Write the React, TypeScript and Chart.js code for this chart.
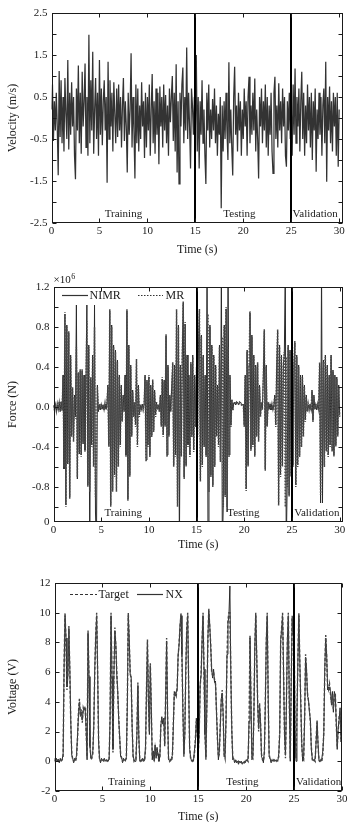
import React, { useEffect, useRef } from 'react';
import { Chart, registerables } from 'chart.js';

Chart.register(...registerables);

const FONT = '"Liberation Serif", "Times New Roman", serif';
const SAMPLE_STEP = 0.1; // seconds between samples

const timeTicks = [0, 5, 10, 15, 20, 25, 30];
const separators = [15, 25];
const regionNames = ['Training', 'Testing', 'Validation'];

// ---------- Panel 1: velocity (m/s) ----------
const velocity = [
  0.2, 0.8, -0.55, 0.4, -0.3, 0.6, -0.2, -1.36, 1.12, -0.45,
  0.9, -0.6, 0.5, -0.8, 0.95, 0.1, -0.5, 1.38, -0.75, 0.6,
  -0.4, 0.85, -0.2, 0.5, -0.9, -1.46, 0.7, -0.3, 1.25, -0.6,
  0.6, -0.85, 1.1, -0.2, 0.4, 1.3, -0.7, 0.5, -0.9, 1.98,
  -0.6, 0.9, -0.3, 1.58, -0.85, 0.2, 0.95, -0.5, 0.6, -0.9,
  1.38, -0.4, 0.7, -0.65, 0.4, 0.9, -0.3, 0.5, -1.54, 1.34,
  -0.5, 0.9, -0.2, 0.6, -0.8, 0.85, 0.1, -0.6, 0.7, -0.45,
  0.8, -0.3, 0.5, -0.7, 0.3, 0.95, -0.55, 0.4, -0.2, -1.3,
  0.6, -0.4, 0.2, 1.54, -0.7, 0.5, -0.3, -1.44, 0.8, -0.6,
  0.7, -0.8, 0.3, -0.5, 0.85, -0.2, 0.4, -0.95, 0.6, -0.7,
  0.5, -0.3, 0.8, -0.9, 0.2, 1.05, -0.6, 0.4, -0.85, 0.7,
  -0.4, 0.6, -1.1, 0.75, -0.2, 0.5, -0.7, 0.8, -0.3, 0.55,
  -0.6, 0.3, -0.9, 0.7, -0.1, 0.5, 1.0, -0.55, 0.6, -0.8,
  1.28, -1.3, 0.4, -1.57, 0.6, -0.2, 0.8, 1.2, -0.6, 0.5,
  -0.3, 1.68, -0.5, 0.6, -0.2, -1.2, 0.7, 0.3, -0.4, 0.5,
  -0.3, 1.5, -0.8, 0.5, -1.2, 0.4, -0.4, 0.9, -0.6, 0.2,
  -0.9, -1.57, 0.6, -0.3, 0.8, -0.7, 0.2, -0.5, 0.45, -0.3,
  0.7, -0.6, 0.3, -0.9, 0.1, -0.4, 0.5, -2.15, 0.3, -0.8,
  0.4, -0.5, 0.6, -0.3, -1.0, 1.33, -0.6, 0.2, -0.7, -1.37,
  0.5, 1.22, -0.4, 0.3, -0.8, 0.6, -0.3, 0.4, -0.9, 0.2,
  -0.5, 0.7, -0.2, 0.4, -0.9, 0.5, 0.98, -0.6, 0.3, -0.4,
  0.6, -0.3, 0.94, -0.8, 0.2, -0.5, -1.44, 0.5, -0.2, 0.7,
  -0.6, 0.4, -0.3, 0.8, -0.7, 0.5, -0.9, 0.3, -0.4, 0.6,
  -0.8, -1.32, 0.6, 0.98, -0.5, 0.3, -0.7, 0.83, -0.3, 0.4,
  -0.6, 0.7, -0.2, 0.5, -0.9, -1.16, 0.4, -0.3, 0.6, -0.5,
  0.3, -0.9, 0.8, -0.4, 1.18, -0.6, 0.5, -0.2, 0.7, -0.8,
  0.4, 1.1, -0.5, 0.6, -0.9, 0.3, -0.6, 0.8, -0.3, 0.5,
  -0.7, 0.6, -1.0, 0.4, -0.3, 0.7, -1.28, 0.2, -0.5, 0.6,
  -0.4, 0.5, -0.9, 0.3, 0.7, -0.6, 1.34, -1.52, 0.5, -0.3,
  0.75, -0.6, 0.4, -0.8, 0.6, -0.2, 0.5, -0.9, 0.6, -1.16,
  0.2,
];
const velocityTicks = [-2.5, -1.5, -0.5, 0.5, 1.5, 2.5];
const velocityTickLabels = ['-2.5', '-1.5', '-0.5', '0.5', '1.5', '2.5'];
const velocityMarks = [-2.5, -2, -1.5, -1, -0.5, 0, 0.5, 1, 1.5, 2, 2.5];

// ---------- Panel 2: force (x10^6 N) ----------
const forceNIMR = [
  0.02, -0.04, 0.03, -0.03, 0.02, -0.03, 0.05, -0.04, 0.05, -0.03,
  0.32, -0.62, 0.93, -0.98, 0.82, -0.57, 0.74, -0.9, 0.52, -0.28,
  0.18, -0.33, 0.12, -0.1, 1.02, -0.72, 0.33, -0.47, 0.36, -0.48,
  0.36, -0.37, 0.32, -0.43, 0.22, 1.02, -0.78, 0.62, -1.4, 0.28,
  -0.38, 0.52, -0.58, 1.02, -1.05, -1.4, 0.22, -0.04, 0.02, -0.03,
  0.03, -0.02, 0.02, -0.03, 0.03, -0.02, 0.03, 0.22, -0.38, 0.96,
  -0.98, 0.82, -0.83, 0.62, -0.68, 0.57, -0.83, 0.47, -0.58, 0.32,
  -0.38, 0.22, -0.13, 0.12, -0.04, 0.32, -0.48, 0.96, -0.92, 0.62,
  -0.68, 0.42, -0.28, 0.17, -0.08, 0.04, -0.18, 0.46, -0.38, 0.22,
  -0.08, 0.02, -0.03, 0.03, -0.02, 0.03, 0.32, -0.53, 0.27, -0.38,
  0.3, -0.48, 0.22, -0.28, 0.26, -0.23, 0.17, -0.08, 0.04, -0.02,
  0.02, -0.04, 0.12, -0.18, 0.28, -0.28, 0.27, -0.18, 0.71, -0.48,
  0.42, -0.28, 0.12, -0.04, 0.22, 0.43, -0.58, 0.42, -0.48, 0.96,
  -0.98, 0.82, -1.4, 0.42, -0.48, 0.52, 1.04, -0.7, 0.83, -0.58,
  0.52, -0.38, 0.32, -0.48, 0.43, -0.28, 0.52, -0.43, 0.32, -0.18,
  0.38, -0.28, 0.62, 0.96, -0.73, 0.72, -0.58, 0.52, -0.38, 0.32,
  -0.48, 1.4, -1.4, -0.83, 0.82, -0.68, 0.62, -0.78, 0.52, -0.58,
  0.42, -0.28, 0.22, -0.38, 0.62, -0.53, 1.4, -1.4, -0.98, 0.82,
  -0.88, 0.98, -1.05, 1.4, -0.48, 0.32, -0.18, 0.07, -0.03, 0.04,
  0.05, 0.02, 0.04, 0.05, 0.02, 0.04, 0.05, 0.03, 0.02, 0.03,
  -0.18, 0.32, -0.82, 0.57, -0.58, 0.42, 0.94, -0.42, 0.72, -0.38,
  0.52, -0.48, 0.42, -0.28, 0.43, -0.33, 0.22, -0.08, 0.04, -0.02,
  0.32, 0.76, -0.62, 0.42, -0.18, 0.04, -0.02, 0.03, -0.03, 0.02,
  -0.03, 0.02, 0.12, -0.18, 0.42, 0.76, -0.97, 0.62, -0.68, 0.52,
  -0.58, 0.42, 0.53, 1.4, -1.4, -0.78, 0.62, -0.88, 0.57, -0.68,
  0.52, -0.58, 0.42, 0.64, -0.78, 0.52, -0.58, 0.42, -0.48, 0.32,
  -0.38, 0.32, -0.28, 0.22, -0.13, 0.12, -0.04, 0.02, -0.02, 0.03,
  -0.03, 0.17, -0.13, 0.12, -0.02, 0.03, -0.03, 0.02, -0.03, 0.43,
  -0.96, 1.4, -0.96, 0.47, -0.58, 0.52, -0.43, 0.42, -0.48, 0.32,
  -0.38, 0.52, -0.43, 0.37, -0.48, 0.32, -0.38, 0.3, -0.28, 0.22,
  -0.08,
];
const forceMR = [
  0.01, -0.03, 0.02, -0.04, 0.03, -0.02, 0.04, -0.05, 0.06, -0.04,
  0.3, -0.6, 0.95, -1.0, 0.8, -0.55, 0.76, -0.92, 0.5, -0.3,
  0.2, -0.35, 0.1, -0.12, 0.6, -0.7, 0.35, -0.45, 0.38, -0.5,
  0.38, -0.35, 0.3, -0.45, 0.2, 0.86, -0.8, 0.6, -0.85, 0.3,
  -0.4, 0.5, -0.6, 0.8, -0.9, -0.5, 0.2, -0.05, 0.03, -0.02,
  0.02, -0.03, 0.03, -0.02, 0.04, -0.03, 0.02, 0.2, -0.4, 0.98,
  -1.0, 0.8, -0.85, 0.6, -0.7, 0.55, -0.85, 0.45, -0.6, 0.3,
  -0.4, 0.2, -0.15, 0.1, -0.05, 0.3, -0.5, 0.98, -0.94, 0.6,
  -0.7, 0.4, -0.3, 0.15, -0.1, 0.05, -0.2, 0.48, -0.4, 0.2,
  -0.1, 0.03, -0.02, 0.02, -0.03, 0.02, 0.3, -0.55, 0.25, -0.4,
  0.32, -0.5, 0.2, -0.3, 0.28, -0.25, 0.15, -0.1, 0.05, -0.03,
  0.03, -0.05, 0.1, -0.2, 0.3, -0.3, 0.25, -0.2, 0.73, -0.5,
  0.4, -0.3, 0.1, -0.05, 0.2, 0.45, -0.6, 0.4, -0.5, 0.98,
  -1.0, 0.8, -0.6, 0.4, -0.5, 0.5, 1.06, -0.72, 0.85, -0.6,
  0.5, -0.4, 0.3, -0.5, 0.45, -0.3, 0.5, -0.45, 0.3, -0.2,
  0.4, -0.3, 0.6, 0.98, -0.75, 0.7, -0.6, 0.5, -0.4, 0.3,
  -0.5, 0.4, 0.93, -0.85, 0.8, -0.7, 0.6, -0.8, 0.5, -0.6,
  0.4, -0.3, 0.2, -0.4, 0.6, -0.55, 0.35, 0.7, -1.0, 0.8,
  -0.9, 1.0, -1.0, 0.6, -0.5, 0.3, -0.2, 0.08, -0.04, 0.05,
  0.04, 0.03, 0.05, 0.04, 0.03, 0.05, 0.04, 0.02, 0.03, 0.02,
  -0.2, 0.3, -0.84, 0.55, -0.6, 0.4, 0.96, -0.44, 0.7, -0.4,
  0.5, -0.5, 0.4, -0.3, 0.45, -0.35, 0.2, -0.1, 0.05, -0.03,
  0.3, 0.78, -0.64, 0.4, -0.2, 0.05, -0.03, 0.02, -0.02, 0.03,
  -0.02, 0.03, 0.1, -0.2, 0.4, 0.78, -0.99, 0.6, -0.7, 0.5,
  -0.6, 0.4, 0.55, -1.0, 0.5, -0.8, 0.6, -0.9, 0.55, -0.7,
  0.5, -0.6, 0.4, 0.66, -0.8, 0.5, -0.6, 0.4, -0.5, 0.3,
  -0.4, 0.3, -0.3, 0.2, -0.15, 0.1, -0.05, 0.03, -0.03, 0.02,
  -0.02, 0.15, -0.15, 0.1, -0.03, 0.02, -0.02, 0.03, -0.02, 0.45,
  -0.88, 0.4, -0.5, 0.45, -0.6, 0.5, -0.45, 0.4, -0.5, 0.3,
  -0.4, 0.5, -0.45, 0.35, -0.5, 0.3, -0.4, 0.28, -0.3, 0.2,
  -0.1,
];
const forceTicks = [-1.15, -0.8, -0.4, 0, 0.4, 0.8, 1.2];
const forceTickLabels = ['0', '-0.8', '-0.4', '0.0', '0.4', '0.8', '1.2'];
const forceMarks = [-1.0, -0.8, -0.6, -0.4, -0.2, 0, 0.2, 0.4, 0.6, 0.8, 1.0, 1.2];

// ---------- Panel 3: voltage (V) ----------
const voltageTarget = [
  0.1, 0.0, 0.1, 0.05, 0.1, 0.0, 0.1, 0.05, 0.1, 0.3,
  6.5, 10.0, 8.0, 4.8, 6.0, 9.1, 6.0, 2.5, 0.6, 0.1,
  0.0, 0.1, 0.0, 0.3, 1.5, 3.3, 4.2, 3.0, 3.5, 2.6,
  3.6, 3.4, 3.7, 2.0, 0.3, 8.8, 5.5, 1.2, 0.1, 0.2,
  0.5, 2.5, 6.0, 8.5, 10.0, 6.0, 1.5, 0.1, 0.0, 0.1,
  0.0, 0.1, 0.0, 0.1, 0.05, 0.0, 0.1, 0.1, 3.0, 10.0,
  5.5, 0.6, 6.0, 9.0, 7.7, 6.0, 4.5, 3.0, 1.5, 0.5,
  0.2, 0.0, 0.1, 0.0, 0.1, 0.2, 4.0, 10.0, 8.0, 6.0,
  5.5, 2.5, 0.3, 0.0, 0.1, 0.1, 2.0, 5.3, 1.5, 0.1,
  0.0, 0.1, 0.0, 0.1, 0.0, 0.8, 5.0, 8.2, 4.0, 2.0,
  6.6, 3.5, 0.3, 0.5, 0.2, 0.9, 0.4, 1.0, 0.3, 0.1,
  0.3, 2.6, 2.8, 2.7, 2.8, 1.0, 4.5, 8.3, 3.0, 0.2,
  0.0, 0.1, 0.0, 0.3, 2.5, 4.5, 4.6, 4.4, 5.0, 7.0,
  8.0, 9.0, 10.0, 7.0, 3.5, 0.3, 2.0, 6.0, 9.0, 10.0,
  5.0, 1.0, 0.2, 0.1, 0.0, 0.1, 0.5, 1.5, 2.7, 2.0,
  0.5, 2.0, 5.0, 6.0, 8.0, 10.0, 6.0, 2.0, 0.1, 4.0,
  8.0, 10.3, 9.0, 7.9, 6.0, 5.8, 6.0, 5.5, 5.2, 3.5,
  1.5, 0.3, 0.5, 2.5, 4.0, 4.8, 3.0, 0.5, 0.2, 3.0,
  7.0, 9.5, 10.0, 10.0, 6.0, 2.0, 0.3, 0.1, 0.0, 0.0,
  0.0, -0.1, 0.0, -0.1, 0.0, -0.1, -0.1, 0.0, -0.1, 0.0,
  0.0, 0.1, 0.0, 2.5, 8.5, 4.0, 0.3, 0.2, 3.0, 7.5,
  10.0, 7.0, 4.0, 2.0, 3.9, 2.5, 0.5, 0.1, 0.0, 0.5,
  4.0, 8.0, 10.0, 4.0, 0.5, 0.1, 0.0, 0.1, 0.0, 0.1,
  0.0, 0.1, 0.0, 0.1, 0.3, 2.0, 8.0, 9.0, 10.0, 6.0,
  2.0, 0.2, 4.0, 8.0, 10.0, 4.0, 0.2, 5.0, 9.8, 8.5,
  9.0, 2.0, 0.2, 3.0, 7.0, 10.0, 6.5, 4.0, 1.0, 0.2,
  0.1, 3.0, 7.2, 6.0, 4.6, 4.0, 3.5, 2.6, 1.0, 0.1,
  0.0, 0.1, 0.0, 1.5, 2.8, 1.0, 0.1, 0.0, 0.1, 0.0,
  0.5, 2.0, 6.0, 8.5, 7.0, 5.0, 4.8, 5.2, 4.5, 4.0,
  4.5, 3.5, 4.5, 4.6, 2.5, 1.0, 2.0, 3.0, 3.4, 1.5,
  2.0,
];
const voltageNX = [
  0.2, -0.1, 0.2, 0.0, 0.15, -0.1, 0.2, 0.0, 0.1, 0.5,
  6.2, 9.8, 8.3, 5.0, 5.8, 8.9, 6.2, 2.7, 0.4, 0.2,
  -0.1, 0.2, 0.1, 0.4, 1.7, 3.1, 4.0, 3.2, 3.3, 2.8,
  3.4, 3.6, 3.5, 2.2, 0.1, 8.6, 5.7, 1.0, 0.2, 0.3,
  0.7, 2.3, 6.2, 8.3, 9.8, 6.2, 1.3, 0.2, -0.1, 0.2,
  0.1, 0.0, 0.2, 0.0, 0.1, 0.1, 0.0, 0.2, 2.8, 9.8,
  5.7, 0.8, 5.8, 8.8, 7.9, 5.8, 4.7, 2.8, 1.7, 0.3,
  0.3, -0.1, 0.2, 0.1, 0.0, 0.3, 3.8, 9.8, 8.2, 5.8,
  5.7, 2.3, 0.4, 0.1, 0.0, 0.2, 1.8, 5.1, 1.7, 0.0,
  0.1, 0.0, 0.2, 0.0, 0.1, 1.0, 4.8, 8.0, 4.2, 1.8,
  6.4, 3.7, 0.1, 0.7, 0.0, 1.1, 0.2, 0.8, 0.5, 0.0,
  0.4, 2.4, 3.0, 2.5, 2.9, 1.2, 4.3, 8.1, 3.2, 0.1,
  0.1, 0.0, 0.2, 0.4, 2.3, 4.7, 4.4, 4.6, 4.8, 7.2,
  7.8, 9.2, 9.8, 7.2, 3.3, 0.5, 1.8, 6.2, 8.8, 9.8,
  5.2, 0.8, 0.3, 0.0, 0.1, 0.0, 0.7, 1.3, 2.9, 1.8,
  0.7, 1.8, 5.2, 5.8, 8.2, 9.8, 6.2, 1.8, 0.3, 3.8,
  8.2, 10.1, 9.2, 7.7, 6.2, 5.6, 6.2, 5.3, 5.4, 3.3,
  1.7, 0.1, 0.7, 2.3, 4.2, 4.6, 3.2, 0.3, 0.4, 2.8,
  7.2, 9.3, 9.8, 11.8, 5.8, 2.2, 0.1, 0.2, -0.1, 0.1,
  -0.1, 0.0, -0.2, 0.0, -0.1, 0.0, -0.2, -0.1, 0.0, -0.1,
  0.1, 0.0, 0.2, 2.7, 8.3, 4.2, 0.1, 0.3, 2.8, 7.7,
  9.8, 7.2, 3.8, 2.2, 3.7, 2.7, 0.3, 0.2, -0.1, 0.7,
  3.8, 8.2, 9.8, 4.2, 0.3, 0.2, -0.1, 0.0, 0.1, 0.0,
  0.1, 0.0, 0.1, 0.0, 0.5, 1.8, 8.2, 8.8, 9.8, 6.2,
  1.8, 0.4, 3.8, 8.2, 9.8, 4.2, 0.0, 5.2, 9.6, 8.7,
  8.8, 2.2, 0.0, 3.2, 6.8, 9.8, 6.7, 3.8, 1.2, 0.0,
  0.3, 2.8, 7.0, 6.2, 4.4, 4.2, 3.3, 2.8, 0.8, 0.2,
  0.1, 0.0, 0.2, 1.3, 2.6, 1.2, 0.0, 0.1, 0.0, 0.2,
  0.7, 1.8, 6.2, 8.3, 7.2, 4.8, 5.0, 5.0, 4.7, 3.8,
  4.7, 3.3, 4.7, 4.4, 2.7, 0.8, 2.2, 2.8, 3.6, 1.3,
  2.2,
];
const voltageTicks = [-2, 0, 2, 4, 6, 8, 10, 12];
const voltageTickLabels = ['-2', '0', '2', '4', '6', '8', '10', '12'];
const voltageMarks = [-2, 0, 2, 4, 6, 8, 10, 12];

// ---------- helpers ----------
const toPoints = (values: number[]) =>
  values.map((v, i) => ({ x: Math.round(i * SAMPLE_STEP * 1000) / 1000, y: v }));

type LegendItem = { label: string; dash: number[]; lineX: number; lineLen: number; textX: number };

type PanelSpec = {
  top: number;
  height: number;
  padTop: number;
  yAxisWidth: number;
  xAxisHeight: number;
  xMax: number;
  yMin: number;
  yMax: number;
  yTicks: number[];
  yTickLabels: string[];
  yMarks: number[];
  yTitle: string;
  xTitlePad: number;
  regionX: number[];
  datasets: any[];
  legend?: { dy: number; items: LegendItem[] };
  exponent?: boolean;
};

function makeDecor(spec: PanelSpec) {
  return {
    id: 'panelDecor',
    afterDatasetsDraw(chart: any) {
      const { ctx, chartArea } = chart;
      const xs = chart.scales.x;
      const ys = chart.scales.y;
      const L = Math.round(chartArea.left) + 0.5;
      const R = Math.round(chartArea.right) - 0.5;
      const T = Math.round(chartArea.top) + 0.5;
      const B = Math.round(chartArea.bottom) - 0.5;
      ctx.save();
      // split lines
      ctx.strokeStyle = '#000';
      ctx.lineWidth = 2;
      ctx.beginPath();
      for (const s of separators) {
        const px = Math.round(xs.getPixelForValue(s));
        ctx.moveTo(px, T);
        ctx.lineTo(px, B);
      }
      ctx.stroke();
      // frame
      ctx.lineWidth = 1;
      ctx.strokeStyle = '#1a1a1a';
      ctx.strokeRect(L, T, R - L, B - T);
      // inward tick marks
      ctx.beginPath();
      for (const v of timeTicks) {
        const px = Math.round(xs.getPixelForValue(v)) + 0.5;
        ctx.moveTo(px, B);
        ctx.lineTo(px, B - 4);
        ctx.moveTo(px, T);
        ctx.lineTo(px, T + 4);
      }
      for (const v of spec.yMarks) {
        const py = Math.round(ys.getPixelForValue(v)) + 0.5;
        ctx.moveTo(L, py);
        ctx.lineTo(L + 4, py);
        ctx.moveTo(R, py);
        ctx.lineTo(R - 4, py);
      }
      ctx.stroke();
      // region labels
      ctx.fillStyle = '#1a1a1a';
      ctx.font = `11px ${FONT}`;
      ctx.textAlign = 'center';
      ctx.textBaseline = 'middle';
      regionNames.forEach((n, i) => {
        ctx.fillText(n, xs.getPixelForValue(spec.regionX[i]), chartArea.bottom - 8.5);
      });
      // legend
      if (spec.legend) {
        const ly = Math.round(chartArea.top + spec.legend.dy) + 0.5;
        ctx.font = `12px ${FONT}`;
        ctx.textAlign = 'left';
        for (const it of spec.legend.items) {
          ctx.beginPath();
          ctx.setLineDash(it.dash);
          ctx.lineWidth = 1.2;
          ctx.strokeStyle = '#333';
          ctx.moveTo(chartArea.left + it.lineX, ly);
          ctx.lineTo(chartArea.left + it.lineX + it.lineLen, ly);
          ctx.stroke();
          ctx.setLineDash([]);
          ctx.fillText(it.label, chartArea.left + it.textX, ly);
        }
      }
      // exponent
      if (spec.exponent) {
        ctx.textAlign = 'left';
        ctx.textBaseline = 'middle';
        ctx.font = `11px ${FONT}`;
        const ex = chartArea.left;
        const ey = chartArea.top - 7;
        ctx.fillText('\u00d710', ex, ey);
        const w = ctx.measureText('\u00d710').width;
        ctx.font = `8px ${FONT}`;
        ctx.fillText('6', ex + w + 0.5, ey - 3.5);
      }
      ctx.restore();
    },
  };
}

function makeConfig(spec: PanelSpec): any {
  return {
    type: 'line',
    data: { datasets: spec.datasets },
    options: {
      animation: false,
      responsive: false,
      maintainAspectRatio: false,
      events: [],
      layout: { padding: { top: spec.padTop, right: 6, left: 0, bottom: 0 } },
      elements: { point: { radius: 0 }, line: { tension: 0 } },
      plugins: { legend: { display: false }, tooltip: { enabled: false }, title: { display: false } },
      scales: {
        x: {
          type: 'linear',
          position: 'bottom',
          min: 0,
          max: spec.xMax,
          afterBuildTicks: (s: any) => {
            s.ticks = timeTicks.map((v) => ({ value: v }));
          },
          afterFit: (s: any) => {
            s.height = spec.xAxisHeight;
          },
          grid: { display: false, drawTicks: false },
          border: { display: false },
          ticks: {
            autoSkip: false,
            maxRotation: 0,
            padding: 1.5,
            color: '#1a1a1a',
            font: { family: FONT, size: 11 },
            callback: (v: any) => String(v),
          },
          title: {
            display: true,
            text: 'Time (s)',
            color: '#1a1a1a',
            font: { family: FONT, size: 12 },
            padding: { top: 0, bottom: spec.xTitlePad },
          },
        },
        y: {
          type: 'linear',
          position: 'left',
          min: spec.yMin,
          max: spec.yMax,
          afterBuildTicks: (s: any) => {
            s.ticks = spec.yTicks.map((v) => ({ value: v }));
          },
          afterFit: (s: any) => {
            s.width = spec.yAxisWidth;
          },
          grid: { display: false, drawTicks: false },
          border: { display: false },
          ticks: {
            autoSkip: false,
            padding: 4,
            color: '#1a1a1a',
            font: { family: FONT, size: 11 },
            callback: (_v: any, i: number) => spec.yTickLabels[i],
          },
          title: {
            display: true,
            text: spec.yTitle,
            color: '#1a1a1a',
            font: { family: FONT, size: 12 },
            padding: { top: 6, bottom: 0 },
          },
        },
      },
    },
    plugins: [makeDecor(spec)],
  };
}

const panels: PanelSpec[] = [
  {
    top: 0,
    height: 265,
    padTop: 13,
    yAxisWidth: 51.5,
    xAxisHeight: 42,
    xMax: 30.4,
    yMin: -2.5,
    yMax: 2.5,
    yTicks: velocityTicks,
    yTickLabels: velocityTickLabels,
    yMarks: velocityMarks,
    yTitle: 'Velocity (m/s)',
    xTitlePad: 8,
    regionX: [7.5, 19.6, 27.5],
    datasets: [
      { label: 'Velocity', data: toPoints(velocity), borderColor: '#333', borderWidth: 1.25 },
    ],
  },
  {
    top: 262,
    height: 290,
    padTop: 25,
    yAxisWidth: 53.5,
    xAxisHeight: 30,
    xMax: 30.35,
    yMin: -1.15,
    yMax: 1.2,
    yTicks: forceTicks,
    yTickLabels: forceTickLabels,
    yMarks: forceMarks,
    yTitle: 'Force (N)',
    xTitlePad: 0,
    regionX: [7.3, 19.9, 27.6],
    exponent: true,
    legend: {
      dy: 8,
      items: [
        { label: 'NIMR', dash: [], lineX: 8.5, lineLen: 26, textX: 36 },
        { label: 'MR', dash: [1.5, 1.5], lineX: 84.5, lineLen: 25, textX: 112 },
      ],
    },
    datasets: [
      { label: 'NIMR', data: toPoints(forceNIMR), borderColor: '#2a2a2a', borderWidth: 1.0, order: 1 },
      { label: 'MR', data: toPoints(forceMR), borderColor: '#4a4a4a', borderWidth: 1.5, borderDash: [1.5, 1.5], order: 0 },
    ],
  },
  {
    top: 552,
    height: 272,
    padTop: 31,
    yAxisWidth: 54.5,
    xAxisHeight: 33,
    xMax: 30,
    yMin: -2,
    yMax: 12,
    yTicks: voltageTicks,
    yTickLabels: voltageTickLabels,
    yMarks: voltageMarks,
    yTitle: 'Voltage (V)',
    xTitlePad: 0,
    regionX: [7.55, 19.6, 27.55],
    legend: {
      dy: 11,
      items: [
        { label: 'Target', dash: [3, 2], lineX: 15.5, lineLen: 27, textX: 44 },
        { label: 'NX', dash: [], lineX: 82.5, lineLen: 26, textX: 111 },
      ],
    },
    datasets: [
      { label: 'Target', data: toPoints(voltageTarget), borderColor: '#444', borderWidth: 1.4, borderDash: [3, 2], order: 0 },
      { label: 'NX', data: toPoints(voltageNX), borderColor: '#2a2a2a', borderWidth: 1.0, order: 1 },
    ],
  },
];

function Panel({ spec }: { spec: PanelSpec }) {
  const ref = useRef<HTMLCanvasElement>(null);
  useEffect(() => {
    if (!ref.current) return;
    const chart = new Chart(ref.current, makeConfig(spec));
    return () => chart.destroy();
  }, [spec]);
  return (
    <canvas
      ref={ref}
      width={349}
      height={spec.height}
      style={{ position: 'absolute', left: 0, top: spec.top, width: 349, height: spec.height, display: 'block' }}
    />
  );
}

export default function App() {
  return (
    <div
      style={{
        position: 'fixed',
        left: 0,
        top: 0,
        width: 349,
        height: 822,
        overflow: 'hidden',
        background: '#fff',
      }}
    >
      {panels.map((p, i) => (
        <Panel key={i} spec={p} />
      ))}
    </div>
  );
}
